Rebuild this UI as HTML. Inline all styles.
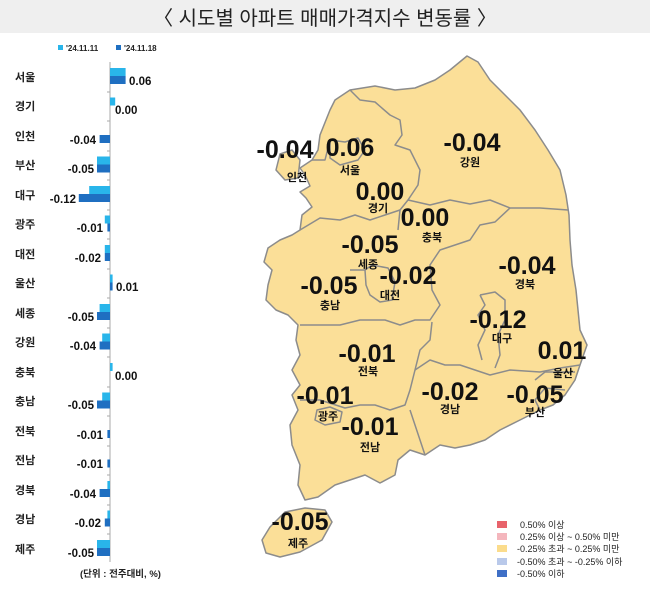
<!DOCTYPE html>
<html><head><meta charset="utf-8"><style>
body{margin:0;background:#fff;}
svg{display:block;font-family:"Liberation Sans","Noto Sans CJK KR",sans-serif;}
.n{font-family:"Liberation Sans Narrow","Liberation Sans",sans-serif;font-weight:bold;font-size:25px;fill:#111;text-anchor:middle;}
.l{font-weight:bold;font-size:11px;fill:#111;text-anchor:middle;}
.rl{font-weight:bold;font-size:11px;fill:#222;}
.v{font-family:"Liberation Sans Narrow","Liberation Sans",sans-serif;font-weight:bold;font-size:11.5px;fill:#111;}
.lg{font-size:9px;fill:#222;}
</style></head><body>
<svg width="650" height="589" viewBox="0 0 650 589">
<rect x="0" y="0" width="650" height="33" fill="#efefef"/>
<text x="325" y="25" text-anchor="middle" font-size="20" fill="#222">〈 시도별 아파트 매매가격지수 변동률 〉</text>
<!-- left legend -->
<rect x="58" y="45" width="5" height="5" fill="#29b5ea"/><text x="66" y="51" font-size="8" font-weight="bold" fill="#222">'24.11.11</text>
<rect x="116" y="45" width="5" height="5" fill="#1f6fc1"/><text x="124" y="51" font-size="8" font-weight="bold" fill="#222">'24.11.18</text>
<!-- axis -->
<line x1="110" y1="62" x2="110" y2="562" stroke="#aaa" stroke-width="1"/>
<g stroke="#aaa" stroke-width="1">
<line x1="107" y1="92" x2="110" y2="92"/><line x1="107" y1="121" x2="110" y2="121"/><line x1="107" y1="151" x2="110" y2="151"/><line x1="107" y1="180" x2="110" y2="180"/><line x1="107" y1="210" x2="110" y2="210"/><line x1="107" y1="239" x2="110" y2="239"/><line x1="107" y1="269" x2="110" y2="269"/><line x1="107" y1="298" x2="110" y2="298"/><line x1="107" y1="328" x2="110" y2="328"/><line x1="107" y1="357" x2="110" y2="357"/><line x1="107" y1="387" x2="110" y2="387"/><line x1="107" y1="416" x2="110" y2="416"/><line x1="107" y1="446" x2="110" y2="446"/><line x1="107" y1="475" x2="110" y2="475"/><line x1="107" y1="505" x2="110" y2="505"/><line x1="107" y1="534" x2="110" y2="534"/>
</g>
<!-- rows labels -->
<g class="rl">
<text x="15" y="81">서울</text><text x="15" y="110">경기</text><text x="15" y="140">인천</text><text x="15" y="169">부산</text><text x="15" y="199">대구</text><text x="15" y="228">광주</text><text x="15" y="258">대전</text><text x="15" y="287">울산</text><text x="15" y="317">세종</text><text x="15" y="346">강원</text><text x="15" y="376">충북</text><text x="15" y="405">충남</text><text x="15" y="435">전북</text><text x="15" y="464">전남</text><text x="15" y="494">경북</text><text x="15" y="523">경남</text><text x="15" y="553">제주</text>
</g>
<!-- bars light -->
<g fill="#29b5ea">
<rect x="110" y="68" width="15.6" height="8"/>
<rect x="110" y="97.5" width="5.2" height="8"/>
<rect x="97" y="156.5" width="13" height="8"/>
<rect x="89.2" y="186" width="20.8" height="8"/>
<rect x="104.8" y="215.5" width="5.2" height="8"/>
<rect x="104.8" y="245" width="5.2" height="8"/>
<rect x="110" y="274.5" width="2.6" height="8"/>
<rect x="99.6" y="304" width="10.4" height="8"/>
<rect x="102.2" y="333.5" width="7.8" height="8"/>
<rect x="110" y="363" width="2.6" height="8"/>
<rect x="102.2" y="392.5" width="7.8" height="8"/>
<rect x="107.4" y="481" width="2.6" height="8"/>
<rect x="107.4" y="510.5" width="2.6" height="8"/>
<rect x="97" y="540" width="13" height="8"/>
</g>
<g fill="#1f6fc1">
<rect x="110" y="76" width="15.6" height="8"/>
<rect x="99.6" y="135" width="10.4" height="8"/>
<rect x="97" y="164.5" width="13" height="8"/>
<rect x="78.8" y="194" width="31.2" height="8"/>
<rect x="107.4" y="223.5" width="2.6" height="8"/>
<rect x="104.8" y="253" width="5.2" height="8"/>
<rect x="110" y="282.5" width="2.6" height="8"/>
<rect x="97" y="312" width="13" height="8"/>
<rect x="99.6" y="341.5" width="10.4" height="8"/>
<rect x="97" y="400.5" width="13" height="8"/>
<rect x="107.4" y="430" width="2.6" height="8"/>
<rect x="107.4" y="459.5" width="2.6" height="8"/>
<rect x="99.6" y="489" width="10.4" height="8"/>
<rect x="104.8" y="518.5" width="5.2" height="8"/>
<rect x="97" y="548" width="13" height="8"/>
</g>
<g class="v">
<text x="129" y="85">0.06</text>
<text x="115" y="114">0.00</text>
<text x="96" y="144" text-anchor="end">-0.04</text>
<text x="94" y="173" text-anchor="end">-0.05</text>
<text x="76" y="203" text-anchor="end">-0.12</text>
<text x="103" y="232" text-anchor="end">-0.01</text>
<text x="101" y="262" text-anchor="end">-0.02</text>
<text x="116" y="291">0.01</text>
<text x="94" y="321" text-anchor="end">-0.05</text>
<text x="96" y="350" text-anchor="end">-0.04</text>
<text x="115" y="380">0.00</text>
<text x="94" y="409" text-anchor="end">-0.05</text>
<text x="103" y="439" text-anchor="end">-0.01</text>
<text x="103" y="468" text-anchor="end">-0.01</text>
<text x="96" y="498" text-anchor="end">-0.04</text>
<text x="101" y="527" text-anchor="end">-0.02</text>
<text x="94" y="557" text-anchor="end">-0.05</text>
</g>
<text x="80" y="577" font-size="9.5" font-weight="bold" fill="#222">(단위 : 전주대비, %)</text>
<!-- map -->
<g fill="#fbdf98" stroke="#8c8c8c" stroke-width="1.5" stroke-linejoin="round">
<path d="M467,56 L478,62 L490,80 L505,95 L520,110 L535,130 L548,150 L560,170 L566,195 L569,215 L570,240 L572,265 L576,290 L578,310 L580,330 L587,345 L580,365 L575,380 L565,395 L553,405 L540,410 L520,420 L500,430 L485,440 L470,445 L455,448 L440,445 L425,455 L410,450 L398,460 L395,475 L380,483 L365,475 L350,480 L335,485 L318,497 L305,500 L298,485 L300,465 L292,445 L290,425 L298,410 L292,395 L300,385 L292,370 L300,355 L296,340 L298,325 L288,315 L276,310 L266,300 L268,285 L272,270 L264,262 L268,248 L280,240 L292,235 L300,230 L302,215 L312,207 L306,198 L300,192 L310,186 L305,175 L300,168 L312,160 L318,150 L320,135 L330,110 L335,100 L350,90 L375,86 L395,90 L415,88 L435,80 L450,70 Z"/>
<path d="M280,154 L292,150 L300,160 L298,178 L285,180 L276,170 Z"/>
<path d="M270,527 L285,512 L305,508 L325,510 L332,522 L322,540 L300,552 L280,557 L266,553 L262,540 Z"/>
</g>
<g fill="none" stroke="#8c8c8c" stroke-width="1.5" stroke-linejoin="round">
<path d="M350,90 L360,100 L375,102 L390,115 L400,120 L402,135 L395,145 L410,150 L420,170 L418,185 L408,200 L400,210 L385,215 L370,220 L355,215 L340,220 L320,218 L300,230"/>
<path d="M330,140 L345,142 L358,138 L365,150 L358,160 L340,165 L330,158 Z"/>
<path d="M312,160 L325,160 L330,140"/>
<path d="M408,200 L430,205 L450,200 L470,204 L490,200 L510,208 L540,208 L568,210"/>
<path d="M510,208 L495,222 L480,225 L470,240 L440,250 L430,265 L432,290 L440,305 L430,320 L415,320 L400,325 L385,320 L360,320 L340,325 L320,325 L300,325"/>
<path d="M400,210 L398,230"/>
<path d="M365,270 L372,265 L388,268 L395,282 L392,300 L380,302 L370,295 L366,285 Z"/>
<path d="M350,270 L365,270"/>
<path d="M432,322 L430,340 L420,350 L415,370 L410,390 L405,405 L390,410 L375,405 L360,405 L345,408 L320,400 L300,400"/>
<path d="M415,370 L430,360 L445,365 L460,365 L475,370 L490,375 L510,370 L540,372 L560,368 L580,365"/>
<path d="M480,295 L495,292 L505,300 L505,320 L498,335 L500,355 L495,368 M480,295 L485,305 L478,315 L485,330 L478,345 L482,360"/>
<path d="M535,380 L545,372 L560,372 L575,372"/>
<path d="M410,410 L420,440 L425,455"/>
<path d="M540,410 L535,400 L545,388 L565,390"/>
<path d="M317,410 L330,407 L342,412 L340,422 L325,425 L315,420 Z"/>
</g>
<g class="n">
<text x="285" y="158">-0.04</text>
<text x="350" y="156">0.06</text>
<text x="380" y="200">0.00</text>
<text x="472" y="151">-0.04</text>
<text x="425" y="226">0.00</text>
<text x="370" y="253">-0.05</text>
<text x="408" y="284">-0.02</text>
<text x="329" y="294">-0.05</text>
<text x="527" y="274">-0.04</text>
<text x="498" y="328">-0.12</text>
<text x="562" y="359">0.01</text>
<text x="367" y="362">-0.01</text>
<text x="325" y="404">-0.01</text>
<text x="370" y="435">-0.01</text>
<text x="450" y="400">-0.02</text>
<text x="535" y="403">-0.05</text>
<text x="300" y="530">-0.05</text>
</g>
<g class="l">
<text x="297" y="181">인천</text>
<text x="350" y="174">서울</text>
<text x="378" y="212">경기</text>
<text x="470" y="166">강원</text>
<text x="432" y="241">충북</text>
<text x="368" y="268">세종</text>
<text x="390" y="299">대전</text>
<text x="330" y="309">충남</text>
<text x="525" y="288">경북</text>
<text x="502" y="342">대구</text>
<text x="563" y="377">울산</text>
<text x="368" y="375">전북</text>
<text x="328" y="420">광주</text>
<text x="370" y="451">전남</text>
<text x="450" y="413">경남</text>
<text x="535" y="416">부산</text>
<text x="298" y="547">제주</text>
</g>
<!-- legend -->
<rect x="497" y="521" width="10" height="7" fill="#e8636b"/><text x="520" y="528" class="lg">0.50% 이상</text>
<rect x="497" y="533" width="10" height="7" fill="#f4b6bd"/><text x="520" y="540" class="lg">0.25% 이상 ~ 0.50% 미만</text>
<rect x="497" y="545" width="10" height="7" fill="#fbdc8c"/><text x="517" y="552" class="lg">-0.25% 초과 ~ 0.25% 미만</text>
<rect x="497" y="558" width="10" height="7" fill="#b9c9ea"/><text x="517" y="565" class="lg">-0.50% 초과 ~ -0.25% 이하</text>
<rect x="497" y="570" width="10" height="7" fill="#3f6fc6"/><text x="517" y="577" class="lg">-0.50% 이하</text>
</svg>
</body></html>
